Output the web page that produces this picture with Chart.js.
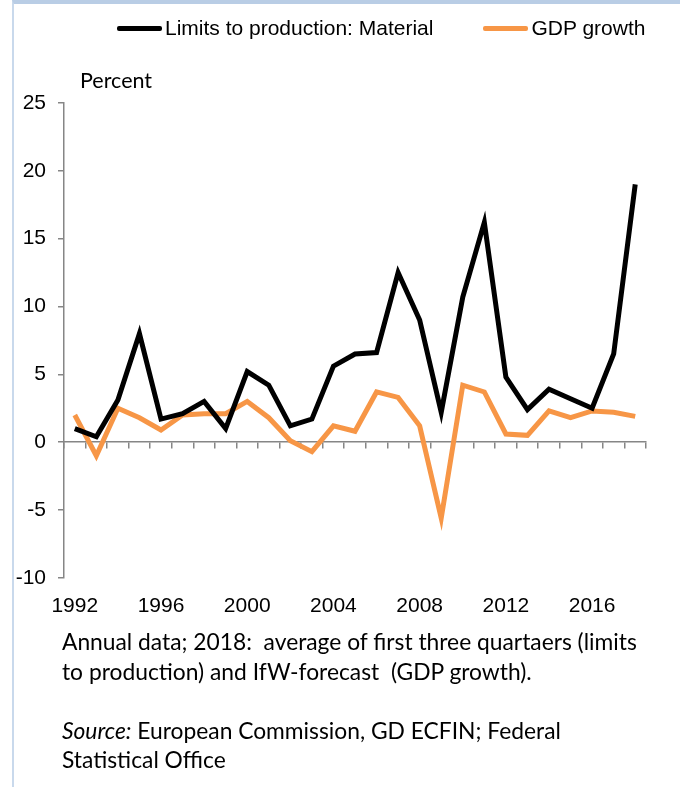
<!DOCTYPE html>
<html>
<head>
    <title>Limits to production and GDP growth</title>
    <meta charset="UTF-8">
    <script src="https://cdn.jsdelivr.net/npm/chart.js@4/dist/chart.umd.min.js"></script>
    <style>
        body {
            margin: 0;
            background-color: #fff;
            width: 680px;
            height: 787px;
            overflow: hidden;
            position: relative;
        }
        .frame {
            position: absolute;
            left: 12px;
            top: 0;
            width: 668px;
            height: 787px;
            border-top: 4px solid #B9CDE5;
            border-left: 2px solid #C9D9EC;
            box-sizing: border-box;
        }
        .chart-box {
            position: absolute;
            left: 0;
            top: 0;
            width: 680px;
            height: 643px;
        }
        #legend {
            position: absolute;
            left: 117px;
            top: 16px;
            display: flex;
            font-family: "Liberation Sans", Arial, sans-serif;
            font-size: 21px;
            color: #000;
            white-space: nowrap;
        }
        #legend .item {
            display: flex;
            align-items: center;
            margin-right: 50px;
        }
        #legend .swatch {
            width: 45px;
            height: 5px;
            border-radius: 2px;
            margin-right: 3px;
        }
        .unit {
            position: absolute;
            left: 80px;
            top: 67px;
            font-family: Lato, "Open Sans", sans-serif;
            font-size: 21.5px;
            color: #000;
        }
        .note {
            position: absolute;
            left: 62px;
            top: 627px;
            font-family: Lato, "Open Sans", sans-serif;
            font-size: 22.8px;
            line-height: 29.5px;
            color: #000;
            white-space: nowrap;
        }
    </style>
</head>
<body>
    <div class="frame"></div>
    <div class="chart-box"><canvas id="chart"></canvas></div>
    <div id="legend"></div>
    <div class="unit">Percent</div>
    <div class="note">
        Annual data; 2018:&nbsp; average of first three quartaers (limits<br>
        to production) and IfW-forecast&nbsp; (GDP growth).<br>
        <br>
        <i>Source:</i> European Commission, GD ECFIN; Federal<br>
        Statistical Office
    </div>

    <script>
        // Data
        var years = ['1992', '1993', '1994', '1995', '1996', '1997', '1998', '1999', '2000', '2001',
                     '2002', '2003', '2004', '2005', '2006', '2007', '2008', '2009', '2010', '2011',
                     '2012', '2013', '2014', '2015', '2016', '2017', '2018'];
        var limitsMaterial = [1.0, 0.4, 3.1, 8.0, 1.7, 2.1, 3.0, 1.0, 5.2, 4.2,
                              1.2, 1.7, 5.6, 6.5, 6.6, 12.5, 9.0, 2.2, 10.7, 16.2,
                              4.8, 2.4, 3.9, 3.2, 2.5, 6.5, 19.0];
        var gdpGrowth = [2.0, -1.0, 2.5, 1.8, 0.9, 2.0, 2.1, 2.1, 3.0, 1.8,
                         0.1, -0.7, 1.2, 0.8, 3.7, 3.3, 1.2, -5.6, 4.2, 3.7,
                         0.6, 0.5, 2.3, 1.8, 2.3, 2.2, 1.9];
        var yTicks = [-10, -5, 0, 5, 10, 15, 20, 25];

        var axisGray = '#868686';
        var tickFont = { family: '"Liberation Sans", Arial, sans-serif', size: 21 };

        // Build the legend from the chart's own datasets
        function buildLegend(chart) {
            var box = document.getElementById('legend');
            box.innerHTML = '';
            chart.data.datasets.forEach(function (ds) {
                var item = document.createElement('div');
                item.className = 'item';
                var sw = document.createElement('span');
                sw.className = 'swatch';
                sw.style.background = ds.borderColor;
                var txt = document.createElement('span');
                txt.textContent = ds.label;
                item.appendChild(sw);
                item.appendChild(txt);
                box.appendChild(item);
            });
        }

        window.onload = function () {
            var ctx = document.getElementById('chart').getContext('2d');
            var chart = new Chart(ctx, {
                type: 'line',
                data: {
                    labels: years,
                    datasets: [{
                        label: 'Limits to production: Material',
                        data: limitsMaterial,
                        borderColor: '#000000',
                        backgroundColor: '#000000',
                        borderWidth: 5,
                        pointRadius: 0,
                        tension: 0,
                        xAxisID: 'x'
                    }, {
                        label: 'GDP growth',
                        data: gdpGrowth,
                        borderColor: '#F79646',
                        backgroundColor: '#F79646',
                        borderWidth: 5,
                        pointRadius: 0,
                        tension: 0,
                        xAxisID: 'x'
                    }]
                },
                options: {
                    responsive: true,
                    maintainAspectRatio: false,
                    animation: false,
                    layout: { padding: { top: 103, right: 34, left: 0, bottom: 8 } },
                    plugins: {
                        tooltip: { enabled: false },
                        legend: { display: false }
                    },
                    scales: {
                        x: {
                            type: 'category',
                            position: { y: 0 },
                            offset: true,
                            grid: {
                                offset: true,
                                drawOnChartArea: false,
                                drawTicks: true,
                                tickLength: 6,
                                color: axisGray,
                                lineWidth: 1.5
                            },
                            border: { display: true, color: axisGray, width: 1.5 },
                            ticks: { display: false }
                        },
                        x2: {
                            type: 'category',
                            labels: years,
                            position: 'bottom',
                            offset: true,
                            grid: { display: false, drawTicks: false },
                            border: { display: false },
                            ticks: {
                                autoSkip: false,
                                maxRotation: 0,
                                padding: 16,
                                color: '#000',
                                font: tickFont,
                                callback: function (value, index) {
                                    var y = parseInt(years[index]);
                                    return (y - 1992) % 4 === 0 ? years[index] : '';
                                }
                            }
                        },
                        y: {
                            min: -10,
                            max: 25,
                            afterBuildTicks: function (scale) {
                                scale.ticks = yTicks.map(function (v) { return { value: v }; });
                            },
                            afterFit: function (scale) { scale.width = 64; },
                            grid: {
                                drawOnChartArea: false,
                                drawTicks: true,
                                tickLength: 6,
                                color: axisGray,
                                lineWidth: 1.5
                            },
                            border: { display: true, color: axisGray, width: 1.5 },
                            ticks: {
                                padding: 12,
                                color: '#000',
                                font: tickFont
                            }
                        }
                    }
                }
            });
            buildLegend(chart);
        };
    </script>
</body>
</html>
